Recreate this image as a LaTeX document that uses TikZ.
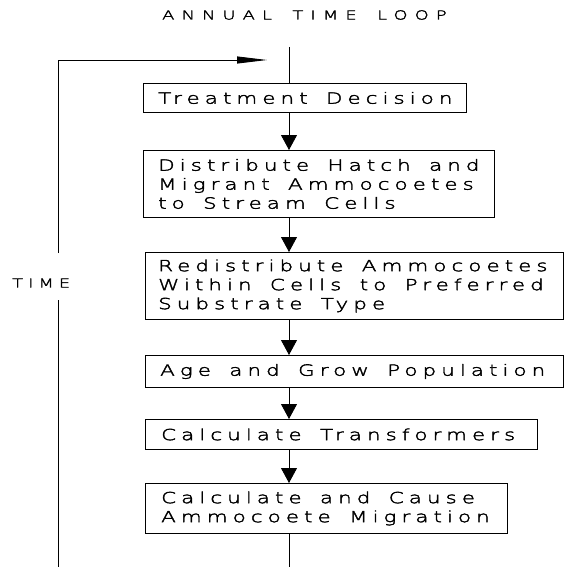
\documentclass[tikz,border=0pt]{standalone}
\usepackage{fontspec}
\usetikzlibrary{arrows.meta}
\newfontfamily\boxfontfam[LetterSpace=33,FakeStretch=1.4,WordSpace=1.55,FakeBold=2.5]{DejaVu Sans ExtraLight}
\newfontfamily\titlefontfam[LetterSpace=58,FakeStretch=1.45,WordSpace=1.6,FakeBold=2.5]{DejaVu Sans ExtraLight}
\newfontfamily\timefontfam[LetterSpace=41,FakeStretch=1.45,FakeBold=2.5]{DejaVu Sans ExtraLight}
\newcommand{\boxfont}{\boxfontfam\fontsize{15.3}{19}\selectfont}
\newcommand{\titlefont}{\titlefontfam\fontsize{12.3}{15}\selectfont}
\newcommand{\timefont}{\timefontfam\fontsize{12.3}{15}\selectfont}
\tikzset{
  stepbox/.style={draw, line width=0.9pt, anchor=north west, inner sep=0pt},
  boxtext/.style={anchor=west, align=left, inner sep=0pt, font=\boxfont},
  flow/.style={line width=0.9pt, -{Triangle[length=15pt,width=16pt]}},
  plain/.style={line width=0.9pt},
  looparrow/.style={line width=0.9pt, -{Triangle[length=30pt,width=7pt]}}
}
\begin{document}
\begin{tikzpicture}[x=1pt,y=-1pt]
\fill[white] (0,0) rectangle (564,567);
\useasboundingbox (0,0) rectangle (564,567);

\node[anchor=west, font=\titlefont, inner sep=0pt] (title) at (162,15) {ANNUAL TIME LOOP};

\node[stepbox, minimum width=323pt, minimum height=29pt] (b1) at (143,83) {};
\node[stepbox, minimum width=351pt, minimum height=67pt] (b2) at (143,150) {};
\node[stepbox, minimum width=418pt, minimum height=67pt] (b3) at (145,252) {};
\node[stepbox, minimum width=418pt, minimum height=32pt] (b4) at (145,355) {};
\node[stepbox, minimum width=392pt, minimum height=30pt] (b5) at (145,419) {};
\node[stepbox, minimum width=362pt, minimum height=50pt] (b6) at (145,483) {};

\node[boxtext] (t1) at ([xshift=15pt]b1.west) {Treatment Decision};
\node[boxtext] (t2) at ([xshift=15pt]b2.west) {Distribute Hatch and\\Migrant Ammocoetes\\to Stream Cells};
\node[boxtext] (t3) at ([xshift=13pt]b3.west) {Redistribute Ammocoetes\\Within Cells to Preferred\\Substrate Type};
\node[boxtext] (t4) at ([xshift=15pt]b4.west) {Age and Grow Population};
\node[boxtext] (t5) at ([xshift=16pt]b5.west) {Calculate Transformers};
\node[boxtext] (t6) at ([xshift=16pt]b6.west) {Calculate and Cause\\Ammocoete Migration};

\node[anchor=west, font=\timefont, inner sep=0pt] (time) at (12,283) {TIME};

\coordinate (ax) at (289,0);
\coordinate (top) at (289,47);
\coordinate (bot) at (289,567);
\coordinate (lb) at (58,567);
\coordinate (g1) at (58,300);
\coordinate (g2) at (58,253);
\coordinate (lt) at (58,60);
\coordinate (tip) at (267,60);

\draw[plain] (top) -- (b1.north -| ax);
\draw[flow] (b1.south -| ax) -- (b2.north -| ax);
\draw[flow] (b2.south -| ax) -- (b3.north -| ax);
\draw[flow] (b3.south -| ax) -- (b4.north -| ax);
\draw[flow] (b4.south -| ax) -- (b5.north -| ax);
\draw[flow] (b5.south -| ax) -- (b6.north -| ax);
\draw[plain] (b6.south -| ax) -- (bot);

\draw[plain] (lb) -- (g1);
\draw[looparrow] (g2) -- (lt) -- (tip);
\end{tikzpicture}
\end{document}
